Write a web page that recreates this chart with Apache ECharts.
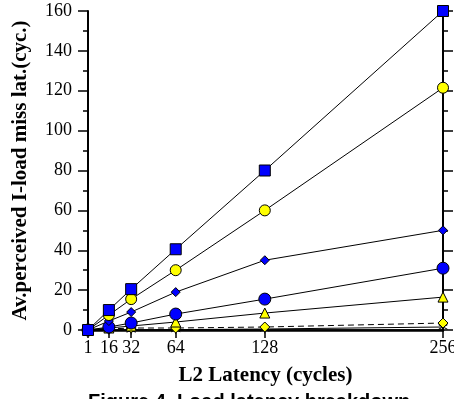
<!DOCTYPE html>
<html>
<head>
<meta charset="utf-8">
<script src="https://cdn.jsdelivr.net/npm/echarts@6/dist/echarts.min.js"></script>
<style>
  html, body { margin: 0; padding: 0; background: #fff; }
  #chart { width: 454px; height: 399px; }
</style>
</head>
<body>
<div id="chart"></div>
<script>
// L2 latency (cycles) on x
const latency = [1, 16, 32, 64, 128, 256];
const xTickLabels = [1, 16, 32, 64, 128, 256];

// perceived I-load miss latency per configuration
const blueSquare = [0, 10, 20.5, 40.5, 80, 160];
const yellowCircle = [0, 7.5, 15.5, 30, 60, 121.5];
const blueDiamond = [0, 4.5, 9, 19, 35, 50];
const blueCircle = [0, 1.5, 3.5, 8, 15.5, 31];
const yellowTriangle = [0, 1, 2, 4, 8.5, 16.5];
const yellowDiamond = [0, 0.5, 1, 1, 1.5, 3.5];
const blackStar = [0, 0, 0, 0.2, 0.5, 1.5];

const serif = "Liberation Serif";
const starPath = "path://M0,-10L0,10M-8.7,-5L8.7,5M-8.7,5L8.7,-5";

function mk(values, symbol, size, color, dashed) {
  return {
    type: "line",
    data: latency.map((x, i) => [x, values[i]]),
    symbol: symbol,
    symbolSize: size,
    showAllSymbol: true,
    lineStyle: { color: "#000", width: 1, type: dashed ? [6, 4] : "solid" },
    itemStyle: { color: color, borderColor: "#000", borderWidth: 1, opacity: 1 },
    emphasis: { disabled: true },
    z: 3,
  };
}

const chart = echarts.init(document.getElementById("chart"));

const option = {
  animation: false,
  grid: { left: 88, right: 11, top: 11, bottom: 69, outerBoundsMode: "none", containLabel: false },
  xAxis: [
    {
      type: "value",
      min: 1,
      max: 256,
      name: "L2 Latency (cycles)",
      nameLocation: "center",
      nameGap: 35,
      nameTextStyle: { fontFamily: serif, fontWeight: "bold", fontSize: 21, color: "#000" },
      axisLine: { lineStyle: { color: "#000", width: 2.5 } },
      axisTick: { show: true, customValues: xTickLabels, length: 8, lineStyle: { color: "#000", width: 1.5 } },
      axisLabel: {
        customValues: xTickLabels,
        fontFamily: serif,
        fontSize: 18,
        color: "#000",
        margin: 9,
        hideOverlap: false,
      },
      splitLine: { show: false },
    },
    {
      type: "value",
      position: "top",
      min: 1,
      max: 256,
      axisLine: { show: true, lineStyle: { color: "#000", width: 1.5 } },
      axisTick: { show: false },
      axisLabel: { show: false },
      splitLine: { show: false },
    },
  ],
  yAxis: [
    {
      type: "value",
      min: 0,
      max: 160,
      interval: 20,
      name: "Av.perceived I-load miss lat.(cyc.)",
      nameLocation: "center",
      nameGap: 57,
      nameTextStyle: { fontFamily: serif, fontWeight: "bold", fontSize: 21, color: "#000" },
      axisLine: { show: true, lineStyle: { color: "#000", width: 2 } },
      axisTick: { length: 10, lineStyle: { color: "#000", width: 1.5 } },
      minorTick: { show: true, splitNumber: 2, length: 5, lineStyle: { color: "#000", width: 1.5 } },
      axisLabel: { fontFamily: serif, fontSize: 18, color: "#000", margin: 16 },
      splitLine: { show: false },
    },
    {
      type: "value",
      position: "right",
      min: 0,
      max: 160,
      interval: 20,
      axisLine: { show: true, lineStyle: { color: "#000", width: 2 } },
      axisTick: { length: 10, lineStyle: { color: "#000", width: 1.5 } },
      minorTick: { show: true, splitNumber: 2, length: 5, lineStyle: { color: "#000", width: 1.5 } },
      axisLabel: { show: false },
      splitLine: { show: false },
    },
  ],
  series: [
    mk(blackStar, starPath, 9, "#000", false),
    mk(yellowDiamond, "diamond", 10, "#ffff00", true),
    mk(yellowTriangle, "triangle", 10, "#ffff00", false),
    mk(blueCircle, "circle", 12, "#0000ff", false),
    mk(blueDiamond, "diamond", 9, "#0000ff", false),
    mk(yellowCircle, "circle", 11, "#ffff00", false),
    mk(blueSquare, "rect", 11, "#0000ff", false),
  ],
  graphic: [
    {
      type: "text",
      left: 88,
      top: 392,
      style: {
        text: "Figure 4. Load latency breakdown",
        font: "bold 20px 'Liberation Sans'",
        fill: "#000",
      },
    },
  ],
};

chart.setOption(option);
</script>
</body>
</html>
